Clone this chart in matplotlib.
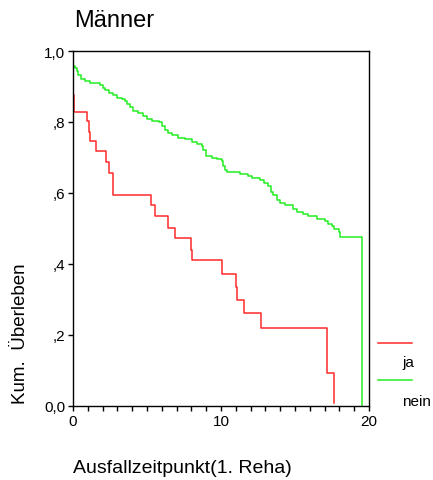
import matplotlib.pyplot as plt
from matplotlib.ticker import MultipleLocator

plt.rcParams['font.family'] = ['Liberation Sans', 'DejaVu Sans']

# Kaplan-Meier steps
ja_t = [0.0, 0.05, 0.92, 1.08, 1.15, 1.55, 2.2, 2.46, 2.73, 5.25, 5.54, 6.4, 6.89,
        7.95, 8.06, 10.09, 10.99, 11.06, 11.58, 12.7, 17.14, 17.64]
ja_s = [0.876, 0.828, 0.803, 0.773, 0.747, 0.717, 0.688, 0.657, 0.594, 0.566, 0.536,
        0.502, 0.474, 0.439, 0.41, 0.373, 0.335, 0.299, 0.262, 0.221, 0.094, 0.008]

nein_t = [0.0, 0.02, 0.14, 0.25, 0.36, 0.52, 0.81, 1.15, 1.82, 2.0, 2.16, 2.45, 2.72,
          3.0, 3.29, 3.51, 3.67, 3.85, 4.08, 4.41, 4.71, 5.02, 5.32, 5.83, 5.99, 6.22,
          6.44, 6.67, 7.12, 7.57, 8.02, 8.36, 8.69, 8.81, 8.96, 9.37, 9.71, 10.05,
          10.16, 10.27, 10.38, 11.28, 11.85, 12.07, 12.64, 12.9, 13.2, 13.36, 13.53,
          13.76, 13.99, 14.32, 14.89, 15.16, 15.56, 15.9, 16.46, 17.03, 17.25, 17.48,
          17.64, 17.99, 18.05, 19.5]
nein_s = [1.0, 0.957, 0.952, 0.943, 0.931, 0.922, 0.916, 0.911, 0.905, 0.897, 0.891,
          0.881, 0.875, 0.869, 0.865, 0.86, 0.851, 0.842, 0.832, 0.825, 0.818, 0.808,
          0.803, 0.799, 0.789, 0.778, 0.768, 0.762, 0.756, 0.751, 0.743, 0.737, 0.731,
          0.721, 0.705, 0.7, 0.696, 0.69, 0.677, 0.665, 0.658, 0.653, 0.649, 0.643,
          0.638, 0.627, 0.621, 0.602, 0.594, 0.58, 0.573, 0.566, 0.556, 0.547, 0.542,
          0.535, 0.528, 0.521, 0.514, 0.508, 0.5, 0.489, 0.475, 0.0]

yticks = [0.0, 0.2, 0.4, 0.6, 0.8, 1.0]
ylabels = ['0,0', ',2', ',4', ',6', ',8', '1,0']
xticks = [0, 10, 20]

red = '#ff2a2a'
green = '#22ee22'

fig = plt.figure(figsize=(4.33, 4.81), dpi=100)
ax = fig.add_axes([73 / 433, 1 - 407 / 481, 296 / 433, 355 / 481])

ax.step(ja_t, ja_s, where='post', color=red, lw=1.1)
ax.step(nein_t, nein_s, where='post', color=green, lw=1.1)

ax.set_xlim(0, 20)
ax.set_ylim(0, 1)
ax.set_xticks(xticks)
ax.set_xticklabels([str(x) for x in xticks])
ax.xaxis.set_minor_locator(MultipleLocator(1))
ax.set_yticks(yticks)
ax.set_yticklabels(ylabels)
ax.tick_params(direction='out', length=3.5, labelsize=11, width=1, pad=2)
ax.tick_params(which='minor', direction='out', length=3.5, width=1)
for s in ax.spines.values():
    s.set_linewidth(1)

fig.text(74 / 433, 1 - 21 / 481, 'Männer', fontsize=17, va='center', ha='left')
fig.text(73 / 433, 1 - 469 / 481, 'Ausfallzeitpunkt(1. Reha)', fontsize=14,
         va='center', ha='left')
fig.text(21 / 433, 1 - 334 / 481, 'Kum.  Überleben', fontsize=13.5, rotation=90,
         va='center', ha='center')

# legend drawn by hand to the right of the plot
fig.add_artist(plt.Line2D([378 / 433, 412 / 433], [1 - 344 / 481] * 2, color=red, lw=1.1))
fig.add_artist(plt.Line2D([378 / 433, 412 / 433], [1 - 381 / 481] * 2, color=green, lw=1.1))
fig.text(402 / 433, 1 - 363 / 481, 'ja', fontsize=11, va='center', ha='left')
fig.text(402 / 433, 1 - 402 / 481, 'nein', fontsize=11, va='center', ha='left')

fig.savefig('out.png', dpi=100)
